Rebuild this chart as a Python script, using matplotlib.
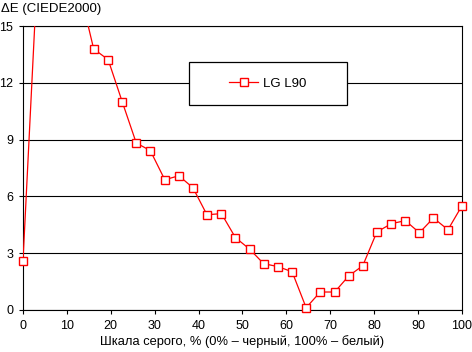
import numpy as np
import matplotlib
matplotlib.use("Agg")
import matplotlib.pyplot as plt
from matplotlib.lines import Line2D
from matplotlib.patches import Rectangle

plt.rcParams["font.family"] = ["Liberation Sans", "DejaVu Sans"]
plt.rcParams["font.size"] = 9

# grey level, % (0% black, 100% white)
gray_pct = [0, 3.2, 6.5, 9.7, 12.9, 16.1, 19.4, 22.6, 25.8, 29.0, 32.3,
            35.5, 38.7, 41.9, 45.2, 48.4, 51.6, 54.8, 58.1, 61.3, 64.5,
            67.7, 71.0, 74.2, 77.4, 80.6, 83.9, 87.1, 90.3, 93.5, 96.8, 100]
# dE (CIEDE2000) for LG L90; first few points run off the top of the chart
delta_e = [2.59, 17.5, 20.0, 19.0, 16.9, 13.79, 13.22, 11.0, 8.82, 8.42, 6.88,
           7.09, 6.46, 5.03, 5.09, 3.82, 3.22, 2.45, 2.29, 2.02, 0.12,
           0.95, 0.95, 1.80, 2.34, 4.12, 4.56, 4.72, 4.08, 4.86, 4.24, 5.51]
series_name = "LG L90"

x_ticks = list(range(0, 101, 10))
y_ticks = [0, 3, 6, 9, 12, 15]

W, H = 472, 352
fig = plt.figure(figsize=(W / 100, H / 100), dpi=100)
ax = fig.add_axes([23 / W, 1 - 310 / H, 439 / W, 284 / H])

x = np.array(gray_pct)
y = np.array(delta_e)

ax.plot(x, y, color="red", linewidth=0.9, zorder=3)
inside = y <= 15
ax.plot(x[inside], y[inside], linestyle="none", marker="s", markersize=5.6,
        markerfacecolor="white", markeredgecolor="red", markeredgewidth=1.0,
        clip_on=False, zorder=4)

ax.set_xlim(0, 100)
ax.set_ylim(0, 15)
ax.set_xticks(x_ticks)
ax.set_yticks(y_ticks)
ax.tick_params(axis="both", direction="out", length=3, width=0.8, color="black")
ax.tick_params(axis="x", pad=4)
ax.tick_params(axis="y", pad=4)
ax.yaxis.grid(True, color="black", linewidth=0.8)
ax.set_axisbelow(True)
for sp in ax.spines.values():
    sp.set_color("black")
    sp.set_linewidth(0.8)

# legend box
bx0, bx1 = (189 - 23) / 439, (347 - 23) / 439
by0, by1 = (310 - 105) / 284, (310 - 62) / 284
ax.add_patch(Rectangle((bx0, by0), bx1 - bx0, by1 - by0, transform=ax.transAxes,
                       facecolor="white", edgecolor="black", linewidth=0.9,
                       zorder=5))
handle = Line2D([0], [0], color="red", linewidth=0.9, marker="s", markersize=5.6,
                markerfacecolor="white", markeredgecolor="red",
                markeredgewidth=1.0)
leg = ax.legend([handle], [series_name], loc="center",
                bbox_to_anchor=((bx0 + bx1) / 2, (by0 + by1) / 2),
                frameon=False, handlelength=2.2, handletextpad=0.4,
                borderpad=0, fontsize=9.5)
leg.set_zorder(6)

fig.text(0.002, 1 - 9 / H, "ΔE (CIEDE2000)", ha="left", va="center", fontsize=9.5)
fig.text(242 / W, 1 - 342 / H, "Шкала серого, % (0% – черный, 100% – белый)",
         ha="center", va="center", fontsize=9.3)

fig.savefig("out.png", dpi=100)
